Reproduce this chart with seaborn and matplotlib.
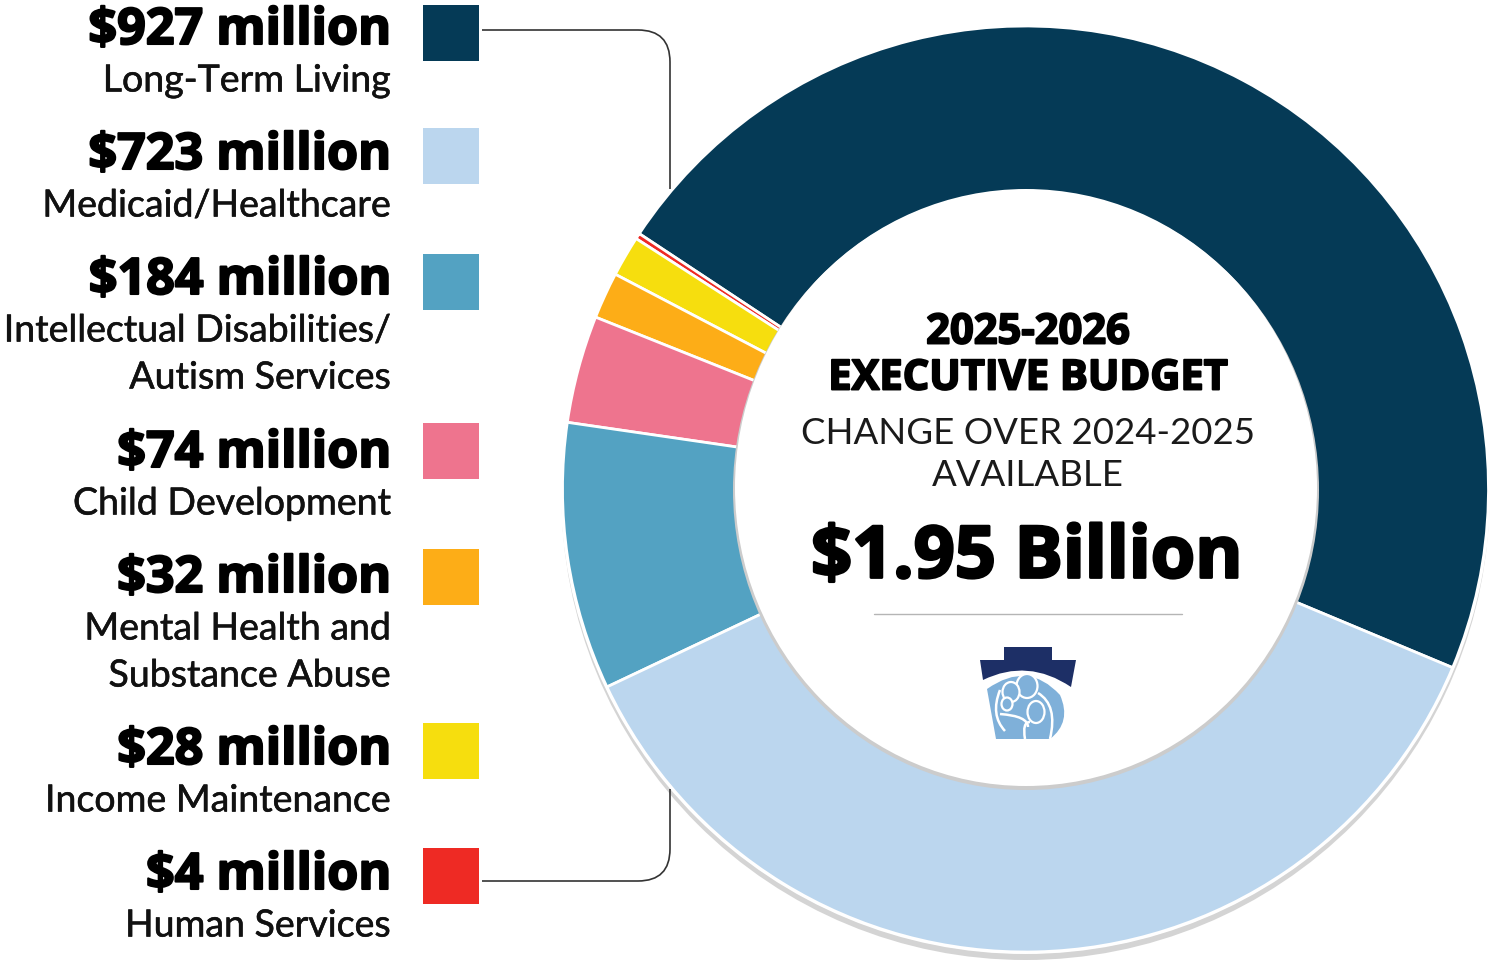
import matplotlib
matplotlib.use("Agg")
import matplotlib.pyplot as plt
import matplotlib.patheffects as pe
import seaborn as sns
from matplotlib.patches import Rectangle, Circle, Ellipse
from matplotlib.path import Path
from matplotlib.patches import PathPatch

sns.set_theme(style="white")
plt.rcParams['font.family'] = ['Lato', 'DejaVu Sans']

amounts = ["$927 million", "$723 million", "$184 million", "$74 million", "$32 million", "$28 million", "$4 million"]
labels = [["Long-Term Living"], ["Medicaid/Healthcare"], ["Intellectual Disabilities/", "Autism Services"],
          ["Child Development"], ["Mental Health and", "Substance Abuse"], ["Income Maintenance"], ["Human Services"]]
values = [927, 723, 184, 74, 32, 28, 4]
colors = ["#053a56", "#bbd6ee", "#53a2c2", "#ee748e", "#fdad17", "#f6de0e", "#ee2a24"]
pie_order = [0, 6, 5, 4, 3, 2, 1]
swatch_y = [5, 128, 254, 423, 549, 723, 848]
amount_y = [25, 150, 275, 448, 573, 745, 870]
label_y = [[77], [202], [327, 374], [500], [625, 672], [797], [922]]

W, H = 1491, 960
fig = plt.figure(figsize=(W/100, H/100), dpi=100, facecolor="white")
ax = fig.add_axes([0, 0, 1, 1])

HEAVY = ['Open Sans', 'DejaVu Sans']
def thick(w, c="black"):
    return [pe.withStroke(linewidth=w, foreground=c)]

cx, cy, R, r = 1025.5, 489, 463, 285
ax.add_patch(Circle((cx, cy + 7), R + 1, fc="#d4d4d4", ec="none", zorder=1))
ax.add_patch(Circle((cx, cy), R + 2, fc="white", ec="none", zorder=1.5))
ax.pie([values[i] for i in pie_order], colors=[colors[i] for i in pie_order],
       startangle=22.7, counterclock=False, center=(cx, cy), radius=R,
       wedgeprops=dict(width=R - r, edgecolor="white", linewidth=2, zorder=2), frame=False)
ax.set_xlim(0, W); ax.set_ylim(H, 0); ax.set_aspect("auto"); ax.axis("off")
ax.add_patch(Ellipse((cx + 0.5, 490), 586, 600, fc="#cccccc", ec="none", zorder=3))
ax.add_patch(Ellipse((cx + 0.5, 487.5), 582, 597, fc="white", ec="none", zorder=4))

for i, a in enumerate(amounts):
    ax.text(391, amount_y[i], a, ha="right", va="center_baseline", fontsize=36.2, fontweight="bold",
            family=HEAVY, color="black", zorder=6, path_effects=thick(1.5))
    for t, y in zip(labels[i], label_y[i]):
        ax.text(391, y, t, ha="right", va="center_baseline", fontsize=27, color="#111111", zorder=6,
                path_effects=thick(0.4, "#111111"))
    ax.add_patch(Rectangle((423, swatch_y[i]), 56, 56, fc=colors[i], ec="none", zorder=6))

def bracket(y0, y1):
    s = 1 if y1 > y0 else -1
    verts = [(482, y0), (638, y0), (670, y0), (670, y0 + s * 32), (670, y1)]
    codes = [Path.MOVETO, Path.LINETO, Path.CURVE3, Path.CURVE3, Path.LINETO]
    ax.add_patch(PathPatch(Path(verts, codes), fc="none", ec="#333333", lw=1.2, zorder=6))
bracket(30, 189)
bracket(881, 789)

for txt, y in [("2025-2026", 328), ("EXECUTIVE BUDGET", 374)]:
    ax.text(1028, y, txt, ha="center", va="center_baseline", fontsize=30, fontweight="bold",
            family=HEAVY, color="black", zorder=7, path_effects=thick(1.4))
ax.text(1028, 431, "CHANGE OVER 2024-2025", ha="center", va="center_baseline", fontsize=26.4, color="#1a1a1a", zorder=7)
ax.text(1028, 473, "AVAILABLE", ha="center", va="center_baseline", fontsize=26.4, color="#1a1a1a", zorder=7)
ax.text(1027, 550, "$1.95 Billion", ha="center", va="center_baseline", fontsize=51.8, fontweight="bold",
        family=HEAVY, color="black", zorder=7, path_effects=thick(2))
ax.plot([874, 1182], [614, 614], color="#b5b5b5", lw=1, zorder=7)

# keystone logo
M, L, C, Z = Path.MOVETO, Path.LINETO, Path.CURVE3, Path.CLOSEPOLY
dark = [(1004, 647), (1052, 647), (1052, 660), (1076, 660), (1071, 687), (1028, 658), (983, 680), (980, 660), (1004, 660), (1004, 647)]
ax.add_patch(PathPatch(Path(dark, [M, L, L, L, L, C, C, L, L, Z]), fc="#1d2f66", ec="none", zorder=7))
light = [(987, 689), (1028, 660), (1060, 695), (1072, 722), (1050, 739), (996, 739), (987, 689)]
ax.add_patch(PathPatch(Path(light, [M, C, C, C, C, L, Z]), fc="#7fb0d9", ec="none", zorder=8))
for x, y, w, h in [(1027, 686, 21, 24), (1011, 692, 17, 20), (1007, 704, 11, 13), (1036, 712, 17, 22)]:
    ax.add_patch(Ellipse((x, y), w, h, fc="#7fb0d9", ec="white", lw=1.6, zorder=9))
for v in ([(1000, 690), (990, 715), (1005, 731)], [(1000, 714), (1028, 716), (1028, 727)],
          [(1038, 693), (1058, 705), (1050, 739)], [(1025, 739), (1022, 722), (1030, 722)]):
    ax.add_patch(PathPatch(Path(v, [M, C, C]), fc="none", ec="white", lw=1.8, zorder=9.5))

fig.savefig("out.png", dpi=100, facecolor="white")
